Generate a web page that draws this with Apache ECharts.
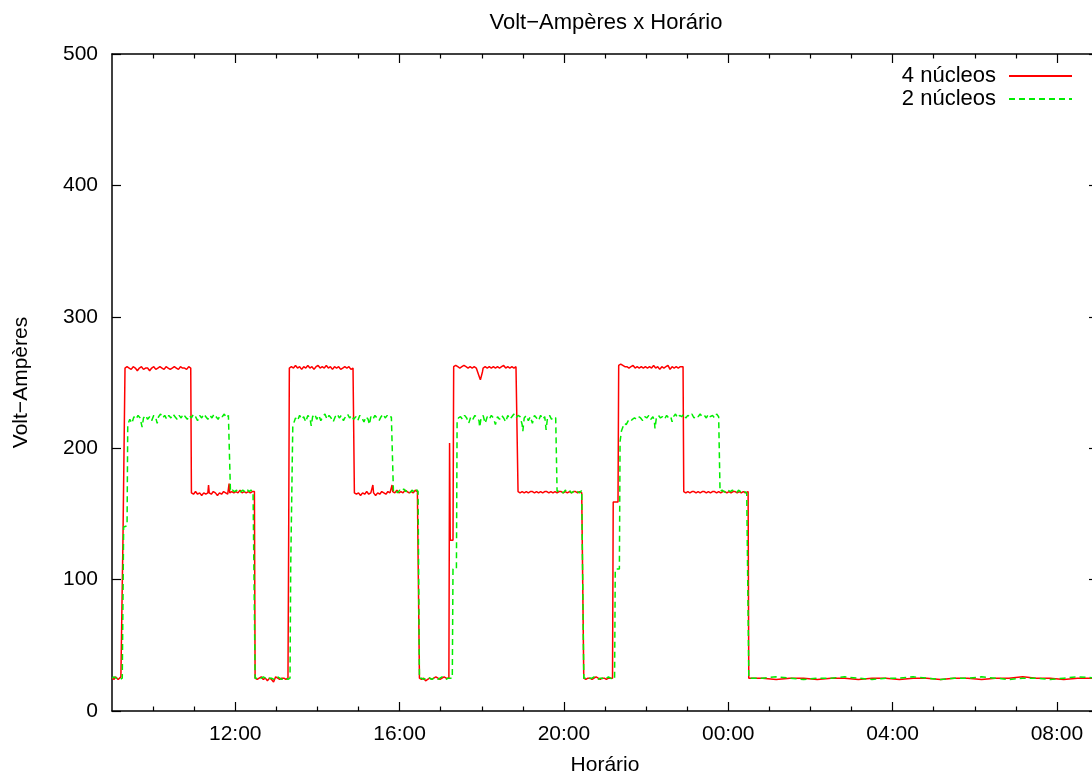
<!DOCTYPE html>
<html>
<head>
<meta charset="utf-8">
<script src="https://cdn.jsdelivr.net/npm/echarts@6/dist/echarts.min.js"></script>
<style>html,body{margin:0;padding:0;background:#fff}#c{width:1092px;height:776px}</style>
</head>
<body>
<div id="c"></div>
<script>
// x values are minutes after 09:00 (axis spans 09:00 -> 09:00 next day)
const seriesNames = ['4 núcleos', '2 núcleos'];
const majorTicks = [180, 420, 660, 900, 1140, 1380];
const majorLabels = ['12:00', '16:00', '20:00', '00:00', '04:00', '08:00'];
const minorTicks = [60, 120, 240, 300, 360, 480, 540, 600, 720, 780, 840, 960, 1020, 1080, 1200, 1260, 1320];
const yTicks = [0, 100, 200, 300, 400, 500];

// ---- 4 núcleos (red) ----
const red4Cycle1 = [[0,25],[3,24],[5,26],[7,25],[9,24],[11,25],[13,26],[15,25],[16,130],[18,131],[19,261],
[22,262],[25,261],[28,260],[31,262],[34,261],[37,259],[40,261],[43,262],[46,260],[49,261],[52,261],[55,259],[58,261],[61,262],[64,260],[67,261],[70,262],[73,261],[76,260],[79,262],[82,261],[85,260],[88,261],[91,262],[94,261],[97,260],[100,262],[103,261],[106,261],[109,260],[112,262],[115,261],
[116,166],[119,165],[122,167],[125,165],[128,166],[131,164],[134,166],[137,165],[140,166],[141,172],[142,166],[145,165],[148,167],[151,166],[154,164],[157,166],[160,165],[163,167],[166,166],[169,165],[171,173],[172,166],[175,167],[178,166],[181,167],[184,166],[187,168],[190,166],[193,167],[196,166],[199,167],[202,166],[205,167],[208,167],[209,25],
[212,24],[215,25],[218,26],[221,24],[224,25],[227,23],[230,25],[233,24],[236,22],[239,26],[242,25],[245,24],[248,25],[251,25],[254,24],[257,25]];
const red4Cycle2 = [[258,130],[259,261],
[262,262],[265,261],[268,263],[271,261],[274,262],[277,260],[280,262],[283,261],[286,263],[289,261],[292,262],[295,260],[298,262],[301,263],[304,261],[307,262],[310,261],[313,263],[316,261],[319,262],[322,260],[325,262],[328,261],[331,262],[334,260],[337,261],[340,262],[343,261],[346,262],[349,260],[352,261],[353,262],
[354,166],[357,165],[360,166],[363,164],[366,166],[369,165],[372,167],[375,165],[378,166],[381,172],[382,166],[385,164],[388,166],[391,165],[394,167],[397,166],[400,165],[403,167],[406,166],[409,172],[410,167],[413,166],[416,168],[419,166],[422,167],[425,166],[428,168],[431,167],[434,166],[437,167],[440,166],[443,168],[446,167],[448,166],[449,25],
[452,24],[455,25],[458,23],[461,24],[464,25],[467,24],[470,25],[473,26],[476,25],[479,24],[482,25],[485,26],[488,25],[492,25]];
const red4Cycle3 = [[493,204],[494,130],[498,130],[499,262],
[502,263],[505,262],[508,261],[511,262],[514,263],[517,262],[520,261],[523,262],[526,261],[529,262],[532,261],[534,260],[536,255],[538,252],[540,253],[541,258],[542,261],[545,262],[548,261],[551,262],[554,261],[557,262],[560,261],[563,262],[566,261],[569,262],[572,263],[575,261],[578,262],[581,261],[584,262],[587,261],[590,262],[592,262],
[593,167],[596,166],[599,167],[602,166],[605,167],[608,166],[611,167],[614,167],[617,166],[620,167],[623,166],[626,167],[629,166],[632,167],[635,167],[638,166],[641,167],[644,166],[647,167],[650,166],[653,167],[656,167],[659,166],[662,167],[665,166],[668,167],[671,166],[674,167],[677,167],[680,166],[683,167],[686,166],[688,167],[689,25],
[692,24],[695,25],[698,25],[701,24],[704,25],[707,26],[710,25],[713,24],[716,25],[719,25],[722,24],[725,25],[728,25],[731,25]];
const red4Cycle4 = [[732,159],[739,159],[740,263],
[743,264],[746,263],[749,262],[752,262],[755,261],[758,262],[761,263],[764,261],[767,262],[770,261],[773,262],[776,261],[779,262],[782,261],[785,262],[788,261],[791,263],[794,261],[797,262],[800,260],[803,262],[806,261],[809,262],[812,263],[815,260],[818,262],[821,261],[824,262],[827,261],[830,262],[834,262],
[835,167],[838,166],[841,167],[844,166],[847,167],[850,167],[853,166],[856,167],[859,166],[862,167],[865,167],[868,166],[871,167],[874,166],[877,167],[880,167],[883,166],[886,167],[889,166],[892,167],[895,167],[898,166],[901,167],[904,166],[907,167],[910,167],[913,166],[916,167],[919,166],[922,167],[925,166],[929,167],[930,25]];
const red4Tail = [[950,25],[970,24],[990,25],[1010,25],[1030,24],[1050,25],[1070,25],[1090,24],[1110,25],[1130,25],[1150,24],[1170,25],[1190,25],[1210,24],[1230,25],[1250,25],[1270,24],[1290,25],[1310,25],[1330,26],[1350,25],[1370,25],[1390,24],[1410,25],[1440,25]];

// ---- 2 núcleos (green) ----
const green2Cycle1 = [[0,25],[3,26],[6,25],[9,25],[12,24],[15,25],[16,25],[17,140],[22,141],[23,218],
[26,222],[29,219],[32,224],[35,222],[38,225],[41,223],[44,216],[46,223],[49,225],[52,222],[55,224],[58,221],[61,225],[64,223],[66,219],[68,224],[71,226],[74,223],[77,225],[80,222],[83,225],[86,223],[89,226],[92,224],[95,222],[98,225],[101,223],[104,226],[107,224],[110,222],[113,225],[116,223],[119,226],[122,224],[125,221],[128,225],[131,223],[134,226],[137,224],[140,222],[143,225],[146,223],[149,226],[152,224],[155,222],[158,225],[161,224],[164,226],[167,223],[170,225],[172,224],
[173,167],[176,168],[179,167],[182,168],[185,166],[188,167],[191,168],[194,167],[197,169],[200,167],[203,168],[206,167],[208,167],[209,25],
[212,25],[215,24],[218,25],[221,26],[224,25],[227,24],[230,25],[233,25],[236,24],[239,25],[242,26],[245,25],[248,24],[251,25],[254,25],[257,24],[260,25]];
const green2Cycle2 = [[261,110],[263,110],[264,216],
[266,220],[268,223],[271,221],[274,225],[277,222],[280,224],[283,220],[286,225],[289,223],[291,217],[293,224],[296,226],[299,222],[302,225],[305,221],[308,224],[311,226],[314,222],[317,225],[320,223],[323,220],[326,224],[329,226],[332,223],[335,225],[338,221],[341,224],[344,226],[347,223],[350,225],[353,222],[356,224],[359,221],[362,225],[365,223],[368,220],[371,224],[374,222],[376,218],[378,224],[381,222],[384,225],[387,223],[390,221],[393,224],[396,226],[399,223],[402,225],[405,223],[408,224],[410,223],
[411,167],[414,168],[417,166],[420,168],[423,167],[426,169],[429,167],[432,168],[435,166],[438,168],[441,167],[444,169],[447,167],[448,167],[449,25],
[452,25],[455,24],[458,25],[461,26],[464,25],[467,24],[470,25],[473,25],[476,24],[479,25],[482,26],[485,25],[488,24],[491,25],[494,25],[497,25]];
const green2Cycle3 = [[498,108],[503,108],[504,221],
[506,223],[509,224],[512,222],[515,225],[518,223],[521,219],[524,224],[527,222],[530,225],[533,223],[536,221],[537,216],[539,223],[542,225],[545,219],[548,224],[551,222],[554,225],[557,223],[560,218],[563,224],[566,222],[569,225],[572,223],[575,220],[578,225],[581,222],[584,224],[587,226],[590,223],[593,225],[596,224],[599,218],[600,213],[602,223],[605,225],[608,221],[611,224],[614,219],[617,225],[620,223],[623,221],[626,225],[629,222],[632,224],[634,214],[636,223],[639,225],[642,222],[645,224],[648,223],[649,224],
[650,167],[653,168],[656,167],[659,166],[662,168],[665,167],[668,168],[671,166],[674,167],[677,168],[680,167],[683,166],[686,168],[688,167],[689,25],
[692,25],[695,24],[698,25],[701,25],[704,26],[707,25],[710,24],[713,25],[716,25],[719,24],[722,25],[725,26],[728,25],[731,24],[734,25]];
const green2Cycle4 = [[735,108],[741,108],[742,205],[744,213],[746,216],[748,219],[751,218],[754,221],[757,220],[760,222],
[763,223],[766,222],[769,224],[772,223],[775,221],[778,224],[781,223],[784,225],[787,222],[790,224],[792,221],[793,215],[795,223],[798,225],[801,223],[804,224],[807,222],[810,225],[813,223],[816,224],[818,220],[820,224],[823,226],[826,223],[829,225],[832,224],[835,226],[838,223],[841,225],[844,224],[847,226],[850,223],[853,225],[856,224],[859,226],[862,224],[865,225],[868,223],[871,226],[874,224],[877,225],[880,223],[883,226],[886,224],[887,225],
[888,167],[891,168],[894,167],[897,166],[900,168],[903,167],[906,168],[909,167],[912,166],[915,168],[918,167],[921,168],[924,167],[927,166],[929,167],[930,25]];
const green2Tail = [[950,25],[970,26],[990,25],[1010,24],[1030,25],[1050,25],[1070,26],[1090,25],[1110,24],[1130,25],[1150,25],[1170,26],[1190,25],[1210,24],[1230,25],[1250,25],[1270,26],[1290,25],[1310,24],[1330,25],[1350,25],[1370,24],[1390,25],[1410,26],[1440,25]];

const red4 = [].concat(red4Cycle1, red4Cycle2, red4Cycle3, red4Cycle4, red4Tail);
const green2 = [].concat(green2Cycle1, green2Cycle2, green2Cycle3, green2Cycle4, green2Tail);

const FONT = "'Liberation Sans', Arial, Helvetica, sans-serif";
const AXIS_COLOR = '#000';

function xAxisDef(position, ticks, len, showLine, showLabel) {
  return {
    type: 'value', position: position, min: 0, max: 1440,
    splitLine: { show: false },
    axisLine: { show: showLine, onZero: false, lineStyle: { color: AXIS_COLOR, width: 1.5 } },
    axisTick: { show: true, inside: true, length: len, customValues: ticks, lineStyle: { color: AXIS_COLOR, width: 1.2 } },
    axisLabel: showLabel ? {
      show: true, customValues: majorTicks, margin: 13,
      fontFamily: FONT, fontSize: 21, color: '#000',
      formatter: function (v) { const i = majorTicks.indexOf(v); return i >= 0 ? majorLabels[i] : ''; }
    } : { show: false }
  };
}

const chart = echarts.init(document.getElementById('c'), null, { renderer: 'canvas' });
chart.setOption({
  animation: false,
  backgroundColor: '#fff',
  title: {
    text: 'Volt−Ampères x Horário',
    left: 601, top: 7, textAlign: 'center',
    textStyle: { fontFamily: FONT, fontSize: 22, fontWeight: 'normal', color: '#000' }
  },
  legend: {
    data: seriesNames,
    orient: 'vertical', right: 14, top: 60,
    align: 'right',
    itemWidth: 63, itemHeight: 21, itemGap: 1,
    itemStyle: { opacity: 0 },
    textStyle: { fontFamily: FONT, fontSize: 22, color: '#000', padding: [0, 8, 0, 0] }
  },
  grid: { left: 112, right: -6, top: 54, bottom: 65, containLabel: false, outerBoundsMode: 'none' },
  xAxis: [
    Object.assign(xAxisDef('bottom', majorTicks, 9, true, true), {
      name: 'Horário', nameLocation: 'middle', nameGap: 44,
      nameTextStyle: { fontFamily: FONT, fontSize: 21, color: '#000' }
    }),
    xAxisDef('bottom', minorTicks, 4.5, false, false),
    xAxisDef('top', majorTicks, 9, true, false),
    xAxisDef('top', minorTicks, 4.5, false, false)
  ],
  yAxis: [
    {
      type: 'value', position: 'left', min: 0, max: 500, interval: 100,
      name: 'Volt−Ampères', nameLocation: 'middle', nameGap: 80, nameRotate: 90,
      nameTextStyle: { fontFamily: FONT, fontSize: 21, color: '#000' },
      splitLine: { show: false },
      axisLine: { show: true, onZero: false, lineStyle: { color: AXIS_COLOR, width: 1.5 } },
      axisTick: { show: true, inside: true, length: 9, lineStyle: { color: AXIS_COLOR, width: 1.2 } },
      axisLabel: { show: true, margin: 14, fontFamily: FONT, fontSize: 21, color: '#000' }
    },
    {
      type: 'value', position: 'right', min: 0, max: 500, interval: 100,
      splitLine: { show: false },
      axisLine: { show: true, onZero: false, lineStyle: { color: AXIS_COLOR, width: 1.5 } },
      axisTick: { show: true, inside: true, length: 9, lineStyle: { color: AXIS_COLOR, width: 1.2 } },
      axisLabel: { show: false }
    }
  ],
  series: [
    {
      name: seriesNames[0], type: 'line', xAxisIndex: 0, yAxisIndex: 0,
      data: red4, symbol: 'none', showSymbol: false,
      lineStyle: { color: '#ff0000', width: 1.5 }, itemStyle: { color: '#ff0000' }
    },
    {
      name: seriesNames[1], type: 'line', xAxisIndex: 0, yAxisIndex: 0,
      data: green2, symbol: 'none', showSymbol: false,
      lineStyle: { color: '#00ee00', width: 1.5, type: [6, 4] }, itemStyle: { color: '#00ee00' }
    }
  ]
});
</script>
</body>
</html>
